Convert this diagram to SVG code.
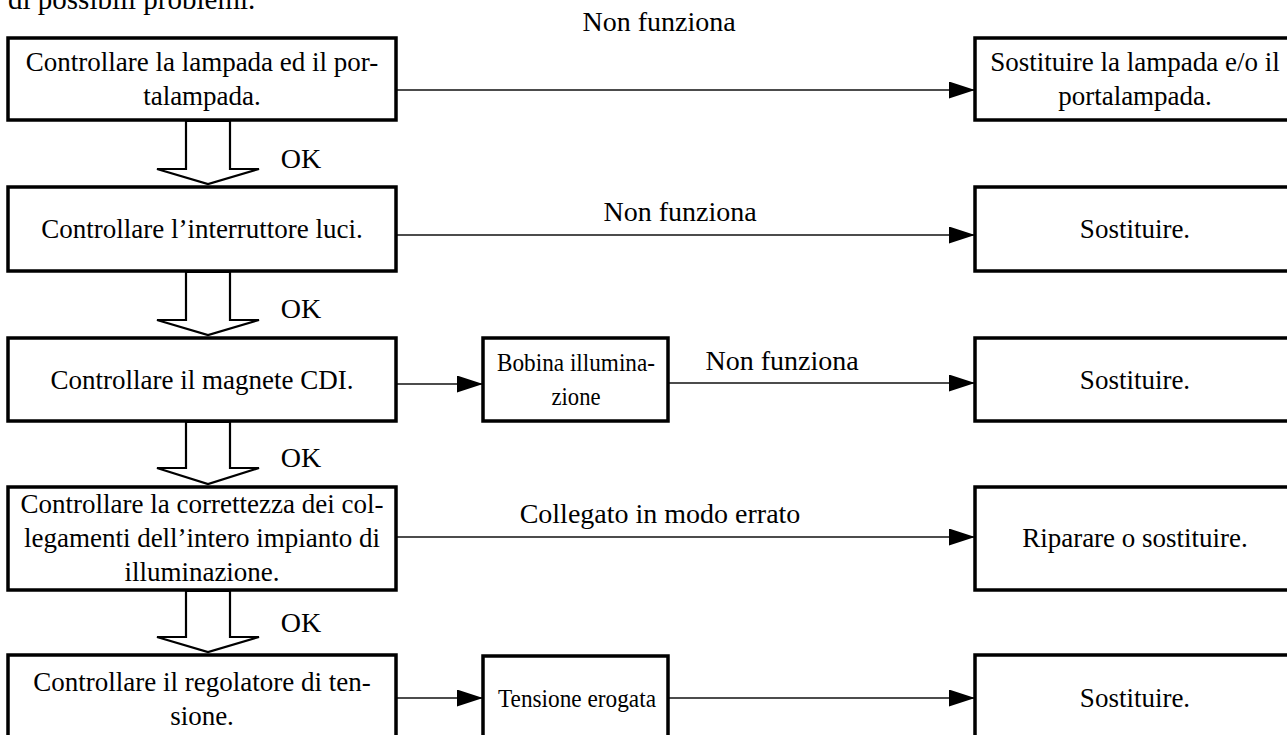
<svg xmlns="http://www.w3.org/2000/svg" width="1287" height="735" viewBox="0 0 1287 735">
<defs>
<style>
.box{fill:#fff;stroke:#000;stroke-width:3.5}
.t{font-family:"Liberation Serif","Times New Roman",serif;font-size:27px;fill:#000;text-anchor:middle}
.tm{font-family:"Liberation Serif","Times New Roman",serif;font-size:26px;fill:#000;text-anchor:middle}
.lbl{font-family:"Liberation Serif","Times New Roman",serif;font-size:28px;fill:#000;text-anchor:middle}
.con{stroke:#111;stroke-width:1.6;fill:none;marker-end:url(#ah)}
.hollow{fill:#fff;stroke:#000;stroke-width:2.2;stroke-linejoin:miter}
</style>
<marker id="ah" markerUnits="userSpaceOnUse" markerWidth="27" markerHeight="18" refX="26" refY="8.5" orient="auto">
<path d="M0,0 L26,8.5 L0,17 Z" fill="#000"/>
</marker>
</defs>
<rect width="1287" height="735" fill="#fff"/>
<text x="8" y="9" font-family="Liberation Serif, serif" font-size="29" fill="#000">di possibili problemi.</text>

<g id="connectors">
<line class="con" x1="396" y1="90" x2="975" y2="90"/>
<line class="con" x1="396" y1="235" x2="975" y2="235"/>
<line class="con" x1="396" y1="384" x2="483" y2="384"/>
<line class="con" x1="668" y1="383" x2="975" y2="383"/>
<line class="con" x1="396" y1="537" x2="975" y2="537"/>
<line class="con" x1="396" y1="698" x2="483" y2="698"/>
<line class="con" x1="668" y1="698" x2="975" y2="698"/>
<text class="lbl" x="659" y="31" font-size="29">Non funziona</text>
<text class="lbl" x="680" y="221" font-size="29">Non funziona</text>
<text class="lbl" x="782" y="370">Non funziona</text>
<text class="lbl" x="660" y="523">Collegato in modo errato</text>
<polygon class="hollow" points="186,121 186,169 157,169 208,184 259,169 230,169 230,121"/>
<polygon class="hollow" points="186,272 186,320 157,320 208,335 259,320 230,320 230,272"/>
<polygon class="hollow" points="186,422 186,468 157,468 208,484 259,468 230,468 230,422"/>
<polygon class="hollow" points="186,591 186,637 157,637 208,652 259,637 230,637 230,591"/>
<text class="lbl" x="301" y="168">OK</text>
<text class="lbl" x="301" y="318">OK</text>
<text class="lbl" x="301" y="467">OK</text>
<text class="lbl" x="301" y="632">OK</text>
</g>

<g id="n1"><rect class="box" x="8" y="38" width="388" height="82"/>
<text class="t" x="202" y="71">Controllare la lampada ed il por-</text>
<text class="t" x="202" y="105">talampada.</text></g>
<g id="n2"><rect class="box" x="8" y="187" width="388" height="84"/>
<text class="t" x="202" y="238">Controllare l’interruttore luci.</text></g>
<g id="n3"><rect class="box" x="8" y="338" width="388" height="83"/>
<text class="t" x="202" y="389">Controllare il magnete CDI.</text></g>
<g id="n4"><rect class="box" x="8" y="487" width="388" height="103"/>
<text class="t" x="202" y="513">Controllare la correttezza dei col-</text>
<text class="t" x="202" y="547">legamenti dell’intero impianto di</text>
<text class="t" x="202" y="581">illuminazione.</text></g>
<g id="n5"><rect class="box" x="8" y="655" width="388" height="100"/>
<text class="t" x="202" y="691">Controllare il regolatore di ten-</text>
<text class="t" x="202" y="725">sione.</text></g>

<g id="m3"><rect class="box" x="483" y="338" width="185" height="83"/>
<text class="tm" x="576" y="371" textLength="158" lengthAdjust="spacingAndGlyphs">Bobina illumina-</text>
<text class="tm" x="576" y="405" textLength="49" lengthAdjust="spacingAndGlyphs">zione</text></g>
<g id="m5"><rect class="box" x="483" y="656" width="185" height="100"/>
<text class="tm" x="577" y="707" textLength="158" lengthAdjust="spacingAndGlyphs">Tensione erogata</text></g>

<g id="r1"><rect class="box" x="975" y="38" width="322" height="82"/>
<text class="t" x="1135" y="71">Sostituire la lampada e/o il</text>
<text class="t" x="1135" y="105">portalampada.</text></g>
<g id="r2"><rect class="box" x="975" y="187" width="322" height="84"/>
<text class="t" x="1135" y="238">Sostituire.</text></g>
<g id="r3"><rect class="box" x="975" y="338" width="322" height="83"/>
<text class="t" x="1135" y="389">Sostituire.</text></g>
<g id="r4"><rect class="box" x="975" y="487" width="322" height="103"/>
<text class="t" x="1135" y="547">Riparare o sostituire.</text></g>
<g id="r5"><rect class="box" x="975" y="655" width="322" height="100"/>
<text class="t" x="1135" y="707">Sostituire.</text></g>
</svg>
